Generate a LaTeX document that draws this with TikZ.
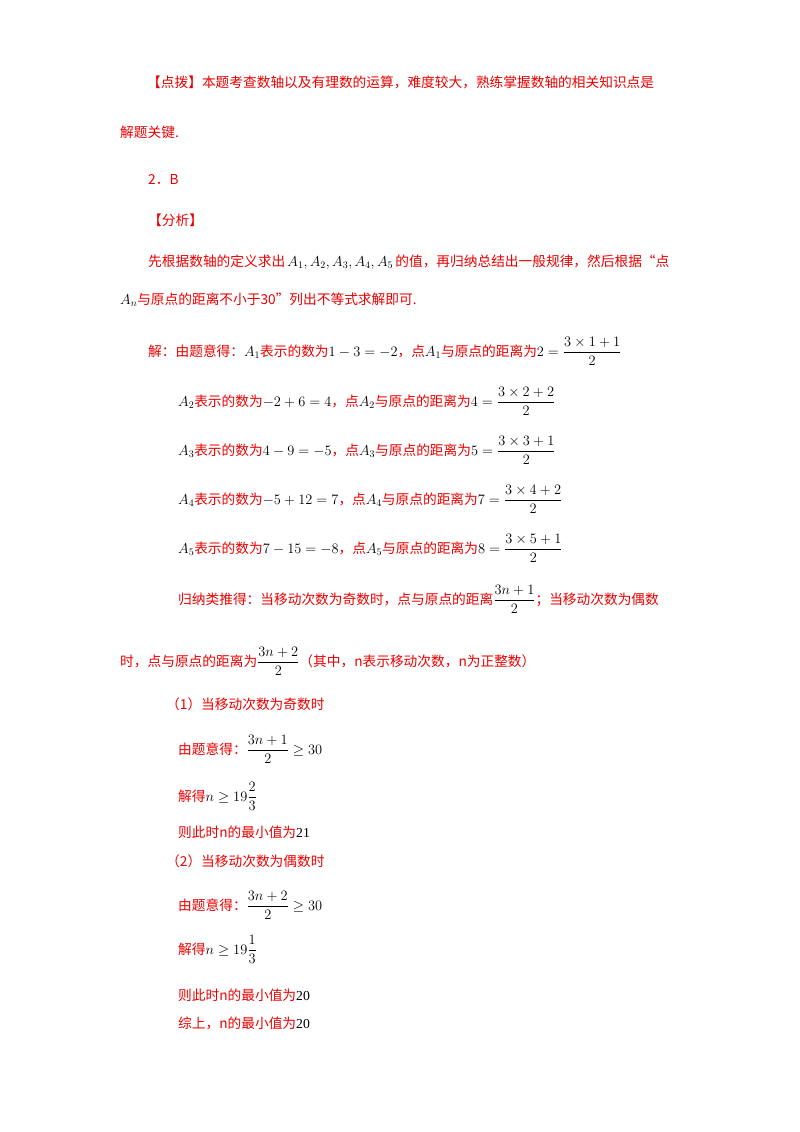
\documentclass[tikz,border=0pt]{standalone}
\usepackage{amsmath}
\usepackage{fontspec}
\setmainfont{Liberation Serif}
\newfontfamily\cjk{Noto Sans CJK SC}
\definecolor{cred}{RGB}{235,0,0}
\newcommand{\R}[1]{{\cjk\color{cred}#1}}
\begin{document}
\begin{tikzpicture}[x=1pt,y=-1pt,
  ln/.style={anchor=base west,inner sep=0pt,font=\fontsize{13.7}{16}\selectfont}]
\useasboundingbox (0,0) rectangle (800,1132);
\node[ln] (l1) at (147,87) {\R{【点拨】本题考查数轴以及有理数的运算，难度较大，熟练掌握数轴的相关知识点是}};
\node[ln] (l2) at (120,137) {\R{解题关键.}};
\node[ln] (l3) at (148,184) {\R{2．B}};
\node[ln] (l4) at (148,225) {\R{【分析】}};
\node[ln] (l5) at (148,266) {\R{先根据数轴的定义求出}\,$A_1,A_2,A_3,A_4,A_5$\,\R{的值，再归纳总结出一般规律，然后根据“点}};
\node[ln] (l6) at (120,304) {$A_n$\R{与原点的距离不小于30”列出不等式求解即可.}};
\node[ln] (l7) at (148,356) {\R{解：由题意得：}$A_1$\R{表示的数为}$1-3=-2$\R{，点}$A_1$\R{与原点的距离为}$2=\dfrac{3\times1+1}{2}$};
\node[ln] (l8) at (178,406) {$A_2$\R{表示的数为}$-2+6=4$\R{，点}$A_2$\R{与原点的距离为}$4=\dfrac{3\times2+2}{2}$};
\node[ln] (l9) at (178,455) {$A_3$\R{表示的数为}$4-9=-5$\R{，点}$A_3$\R{与原点的距离为}$5=\dfrac{3\times3+1}{2}$};
\node[ln] (l10) at (178,504) {$A_4$\R{表示的数为}$-5+12=7$\R{，点}$A_4$\R{与原点的距离为}$7=\dfrac{3\times4+2}{2}$};
\node[ln] (l11) at (178,553) {$A_5$\R{表示的数为}$7-15=-8$\R{，点}$A_5$\R{与原点的距离为}$8=\dfrac{3\times5+1}{2}$};
\node[ln] (l12) at (178,604) {\R{归纳类推得：当移动次数为奇数时，点与原点的距离}$\dfrac{3n+1}{2}$\R{；当移动次数为偶数}};
\node[ln] (l13) at (120,666) {\R{时，点与原点的距离为}$\dfrac{3n+2}{2}$\R{（其中，n表示移动次数，n为正整数）}};
\node[ln] (l14) at (166,709) {\R{（1）当移动次数为奇数时}};
\node[ln] (l15) at (178,754) {\R{由题意得：}$\dfrac{3n+1}{2}\geq30$};
\node[ln] (l16) at (178,801) {\R{解得}$n\geq19\dfrac{2}{3}$};
\node[ln] (l17) at (178,837) {\R{则此时n的最小值为}21};
\node[ln] (l18) at (166,866) {\R{（2）当移动次数为偶数时}};
\node[ln] (l19) at (178,910) {\R{由题意得：}$\dfrac{3n+2}{2}\geq30$};
\node[ln] (l20) at (178,954) {\R{解得}$n\geq19\dfrac{1}{3}$};
\node[ln] (l21) at (178,1000) {\R{则此时n的最小值为}20};
\node[ln] (l22) at (178,1028) {\R{综上，n的最小值为}20};
\end{tikzpicture}
\end{document}
